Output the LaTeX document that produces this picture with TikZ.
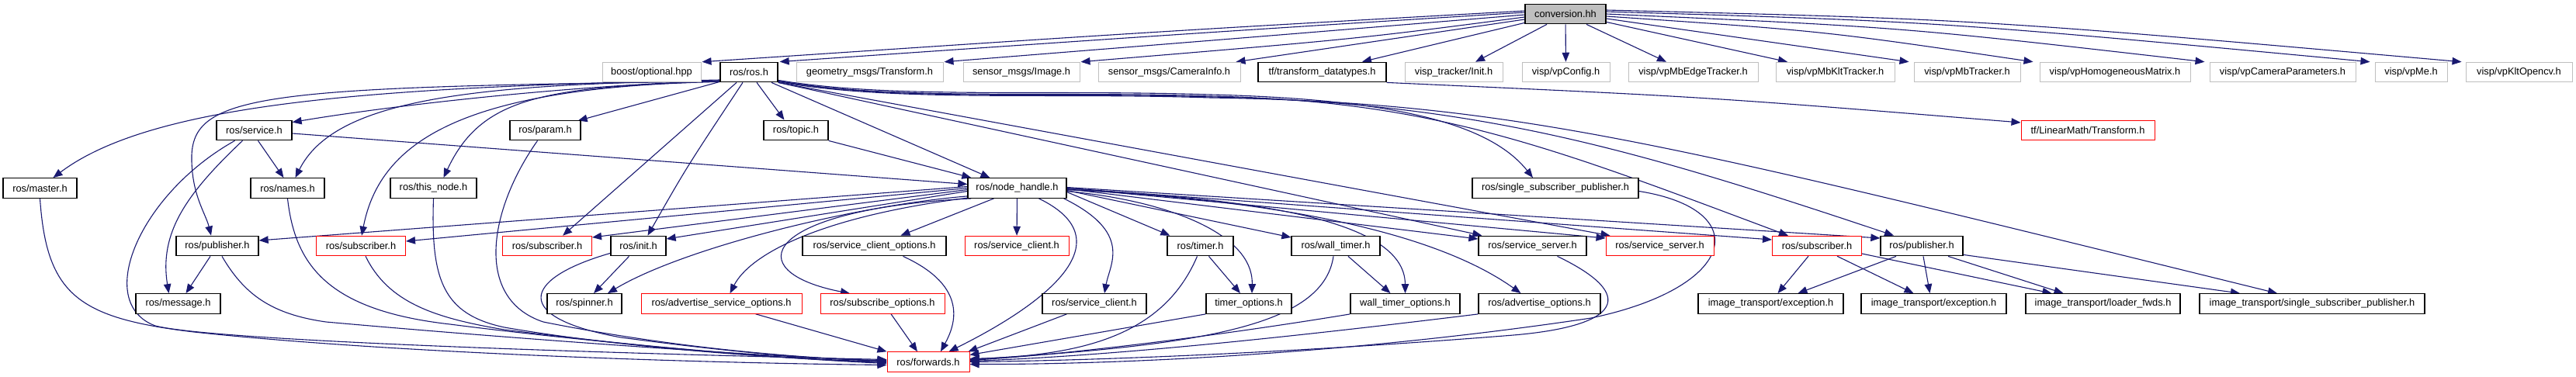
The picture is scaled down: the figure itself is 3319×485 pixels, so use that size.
\documentclass[tikz,border=0pt]{standalone}
\usepackage{fontspec}
\setmainfont{Liberation Sans}
\usetikzlibrary{arrows.meta,calc}
\definecolor{edgeblue}{HTML}{191970}
\definecolor{bordergray}{HTML}{BFBFBF}
\definecolor{convfill}{HTML}{BFBFBF}
\pgfdeclarelayer{bg}
\pgfsetlayers{bg,main}
\tikzset{
  nbox/.style={rectangle, inner sep=0pt, minimum height=25.5pt, fill=white,
    font=\fontsize{12.8}{14}\selectfont, line width=1pt},
  gbox/.style={nbox, draw=bordergray},
  kbox/.style={nbox, draw=black, line width=1.3pt},
  rbox/.style={nbox, draw=red},
  cbox/.style={nbox, draw=black, line width=1.3pt, fill=convfill},
  edge/.style={draw=edgeblue, line width=1.1pt, -{Triangle[length=12pt,width=9.5pt]}}
}
\begin{document}
\begin{tikzpicture}[x=1pt,y=-1pt]
\useasboundingbox (0,0) rectangle (3319,485);
% row 0
\node[cbox, minimum width=104] (conv) at (2017,18) {conversion.hh};
% row 1
\node[gbox, minimum width=127] (boost) at (839.5,93) {boost/optional.hpp};
\node[kbox, minimum width=74] (ros) at (965,93) {ros/ros.h};
\node[gbox, minimum width=189] (geom) at (1120.5,93) {geometry\_msgs/Transform.h};
\node[gbox, minimum width=150] (img) at (1316,93) {sensor\_msgs/Image.h};
\node[gbox, minimum width=183] (caminfo) at (1506.5,93) {sensor\_msgs/CameraInfo.h};
\node[kbox, minimum width=165] (tfdt) at (1703.5,93) {tf/transform\_datatypes.h};
\node[gbox, minimum width=126] (vinit) at (1873,93) {visp\_tracker/Init.h};
\node[gbox, minimum width=113] (vpconfig) at (2017.5,93) {visp/vpConfig.h};
\node[gbox, minimum width=167] (vpmbedge) at (2181.5,93) {visp/vpMbEdgeTracker.h};
\node[gbox, minimum width=153] (vpmbklt) at (2364.5,93) {visp/vpMbKltTracker.h};
\node[gbox, minimum width=137] (vpmb) at (2534.5,93) {visp/vpMbTracker.h};
\node[gbox, minimum width=194] (vphom) at (2725,93) {visp/vpHomogeneousMatrix.h};
\node[gbox, minimum width=188] (vpcam) at (2941,93) {visp/vpCameraParameters.h};
\node[gbox, minimum width=93] (vpme) at (3106.5,93) {visp/vpMe.h};
\node[gbox, minimum width=137] (vpklt) at (3245.5,93) {visp/vpKltOpencv.h};
% row 2
\node[kbox, minimum width=97] (service) at (327.5,168) {ros/service.h};
\node[kbox, minimum width=91] (param) at (702.5,168) {ros/param.h};
\node[kbox, minimum width=83] (topic) at (1025.5,168) {ros/topic.h};
\node[rbox, minimum width=172] (tflm) at (2690,168) {tf/LinearMath/Transform.h};
% row 3
\node[kbox, minimum width=95] (master) at (51.5,242.5) {ros/master.h};
\node[kbox, minimum width=95] (names) at (370.5,242.5) {ros/names.h};
\node[kbox, minimum width=111] (thisnode) at (558.5,242.5) {ros/this\_node.h};
\node[kbox, minimum width=127] (nh) at (1310.5,242.5) {ros/node\_handle.h};
\node[kbox, minimum width=214] (ssp) at (2004,242.5) {ros/single\_subscriber\_publisher.h};
% row 4
\node[kbox, minimum width=106] (pub1) at (280,317) {ros/publisher.h};
\node[rbox, minimum width=115] (sub1) at (465,317) {ros/subscriber.h};
\node[rbox, minimum width=115] (sub2) at (705,317) {ros/subscriber.h};
\node[kbox, minimum width=71] (init) at (822.5,317) {ros/init.h};
\node[kbox, minimum width=185] (sco) at (1126.5,317) {ros/service\_client\_options.h};
\node[rbox, minimum width=134] (sc1) at (1310,317) {ros/service\_client.h};
\node[kbox, minimum width=85] (timer) at (1546.5,317) {ros/timer.h};
\node[kbox, minimum width=114] (wtimer) at (1721,317) {ros/wall\_timer.h};
\node[kbox, minimum width=139] (ss1) at (1974.5,317) {ros/service\_server.h};
\node[rbox, minimum width=139] (ss2) at (2138.5,317) {ros/service\_server.h};
\node[rbox, minimum width=115] (sub3) at (2341,317) {ros/subscriber.h};
\node[kbox, minimum width=106] (pub2) at (2476,317) {ros/publisher.h};
% row 5
\node[kbox, minimum width=109] (msg) at (229.5,391.5) {ros/message.h};
\node[kbox, minimum width=96] (spinner) at (753,391.5) {ros/spinner.h};
\node[rbox, minimum width=207] (aso) at (929.5,391.5) {ros/advertise\_service\_options.h};
\node[rbox, minimum width=160] (so) at (1137,391.5) {ros/subscribe\_options.h};
\node[kbox, minimum width=134] (sc2) at (1410,391.5) {ros/service\_client.h};
\node[kbox, minimum width=110] (topt) at (1609,391.5) {timer\_options.h};
\node[kbox, minimum width=141] (wto) at (1810.5,391.5) {wall\_timer\_options.h};
\node[kbox, minimum width=157] (ao) at (1983.5,391.5) {ros/advertise\_options.h};
\node[kbox, minimum width=187] (ite1) at (2281.5,391.5) {image\_transport/exception.h};
\node[kbox, minimum width=187] (ite2) at (2491.5,391.5) {image\_transport/exception.h};
\node[kbox, minimum width=199] (itlf) at (2709.5,391.5) {image\_transport/loader\_fwds.h};
\node[kbox, minimum width=290] (itssp) at (2979,391.5) {image\_transport/single\_subscriber\_publisher.h};
% row 6
\node[rbox, minimum width=106] (fwd) at (1196,466.5) {ros/forwards.h};

\begin{pgfonlayer}{bg}
% conversion.hh
\draw[edge] ($(conv.west)+(0,-4)$) .. controls (1500,40) .. ($(boost.north east)+(1,0)$);
\draw[edge] ($(conv.west)+(0,-2)$) .. controls (1550,42) .. ($(ros.north east)+(2,0)$);
\draw[edge] ($(conv.west)+(0,1)$) .. controls (1650,45) .. ($(geom.north east)+(1,0)$);
\draw[edge] ($(conv.west)+(0,4)$) .. controls (1750,50) .. ($(img.north east)+(1,0)$);
\draw[edge] ($(conv.west)+(0,7)$) -- ($(caminfo.north east)+(-6,0)$);
\draw[edge] ($(conv.south west)+(0,-2)$) -- ($(tfdt.north)+(51.5,0)$);
\draw[edge] ($(conv.south)+(-24,0)$) -- ($(vinit.north)+(28,0)$);
\draw[edge] (conv) -- (vpconfig);
\draw[edge] ($(conv.south)+(27,0)$) -- ($(vpmbedge.north)+(-34.5,0)$);
\draw[edge] ($(conv.south east)+(0,-3)$) -- ($(vpmbklt.north)+(-61.5,0)$);
\draw[edge] ($(conv.east)+(0,6)$) -- ($(vpmb.north west)+(-6,0)$);
\draw[edge] ($(conv.east)+(0,3)$) .. controls (2350,40) .. ($(vphom.north west)+(-8,0)$);
\draw[edge] ($(conv.east)+(0,0)$) .. controls (2450,35) .. ($(vpcam.north west)+(-6,0)$);
\draw[edge] ($(conv.east)+(0,-3)$) .. controls (2500,28) .. ($(vpme.north west)+(-6,0)$);
\draw[edge] ($(conv.east)+(0,-5)$) .. controls (2550,25) .. ($(vpklt.north west)+(-5,0)$);
\draw[edge] (tfdt.south east) .. controls (2200,125) .. ($(tflm.west)+(0,-10)$);
% ros/ros.h
\draw[edge] ($(ros.west)+(0,10)$) .. controls (500,112) and (200,130) .. ($(master.north)+(17,0)$);
\draw[edge] ($(ros.west)+(0,11)$) .. controls (700,112) and (480,140) .. ($(service.north east)+(0,3)$);
\draw[edge] ($(ros.west)+(0,12)$) .. controls (350,112) and (250,120) .. (247,200) .. controls (246,250) and (265,275) .. ($(pub1.north)+(-8,0)$);
\draw[edge] ($(ros.west)+(0,11)$) .. controls (600,108) and (430,130) .. ($(names.north)+(10,0)$);
\draw[edge] ($(ros.west)+(0,12)$) .. controls (700,112) and (620,125) .. ($(thisnode.north)+(13,0)$);
\draw[edge] ($(ros.south west)+(0,-1)$) -- ($(param.north east)+(-4,1)$);
\draw[edge] ($(ros.south west)+(0,-1)$) .. controls (600,112) and (490,180) .. ($(sub1.north)+(1,0)$);
\draw[edge] ($(ros.south)+(-16,0)$) -- ($(sub2.north)+(20,0)$);
\draw[edge] ($(ros.south)+(-8,0)$) .. controls (885,215) .. ($(init.north)+(12,0)$);
\draw[edge] ($(ros.south)+(10,0)$) -- ($(topic.north)+(-15,0)$);
\draw[edge] ($(ros.south)+(29,0)$) -- ($(nh.north)+(-35,0)$);
\draw[edge] ($(ros.south east)+(0,-3)$) .. controls (1150,128) and (1350,115) .. (1560,122) .. controls (1800,128) and (1920,160) .. ($(ssp.north)+(-29,0)$);
\draw[edge] ($(ros.south east)+(0,-2)$) .. controls (1150,130) and (1350,117) .. (1560,124) .. controls (1850,130) and (2000,190) .. ($(sub3.north)+(-37,0)$);
\draw[edge] ($(ros.south east)+(0,-2)$) .. controls (1150,131) and (1350,118) .. (1560,125) .. controls (1900,132) and (2100,190) .. ($(pub2.north)+(-36,0)$);
\draw[edge] ($(ros.south east)+(0,-1)$) .. controls (1150,132) and (1350,119) .. (1560,126) .. controls (1950,132) and (2150,185) .. ($(itssp.north)+(-45,0)$);
\draw[edge] (ros.south east) -- ($(ss1.north west)+(5,0)$);
\draw[edge] (ros.south east) -- ($(ss2.north west)+(6,0)$);
% ros/service.h
\draw[edge] ($(service.south)+(5,0)$) -- ($(names.north)+(-5,0)$);
\draw[edge] ($(service.south)+(-15,0)$) .. controls (240,250) and (205,300) .. ($(msg.north)+(-12,0)$);
\draw[edge] ($(service.south)+(-25,0)$) .. controls (180,250) and (120,390) .. (200,420) .. controls (280,440) and (800,456) .. ($(fwd.west)+(0,-3)$);
\draw[edge] ($(service.east)+(0,4)$) -- ($(nh.west)+(0,-5)$);
% into forwards from the left
\draw[edge] ($(param.south)+(-10,0)$) .. controls (630,270) and (610,385) .. (700,415) .. controls (850,445) and (1000,460) .. ($(fwd.west)+(0,-1)$);
\draw[edge] (master.south) .. controls (60,380) and (100,410) .. (250,428) .. controls (500,455) and (900,468) .. ($(fwd.west)+(0,4)$);
\draw[edge] (names.south) .. controls (380,340) and (420,400) .. (580,418) .. controls (750,440) and (1000,462) .. ($(fwd.west)+(0,2)$);
\draw[edge] (thisnode.south) .. controls (555,360) and (570,405) .. (650,422) .. controls (800,448) and (1000,462) .. ($(fwd.west)+(0,1)$);
\draw[edge] ($(pub1.south)+(6,0)$) .. controls (315,380) and (350,405) .. (420,415) .. controls (700,440) and (1000,460) .. ($(fwd.west)+(0,-1)$);
\draw[edge] ($(sub1.south)+(6,0)$) .. controls (500,390) and (560,410) .. (650,425) .. controls (850,450) and (1000,462) .. (fwd.west);
\draw[edge] ($(init.south west)+(0,-4)$) .. controls (670,360) and (660,410) .. (800,435) .. controls (950,455) and (1050,463) .. ($(fwd.west)+(0,-2)$);
\draw[edge] ($(pub1.south)+(-9,0)$) -- ($(msg.north)+(10,0)$);
\draw[edge] ($(init.south)+(-12,0)$) -- ($(spinner.north)+(12,0)$);
% ros/node_handle.h
\draw[edge] ($(nh.south west)+(0,-3)$) .. controls (1100,265) and (880,320) .. ($(spinner.north)+(30,0)$);
\draw[edge] ($(nh.south west)+(2,-1)$) .. controls (1050,280) and (965,330) .. ($(aso.north)+(11,0)$);
\draw[edge] ($(nh.south west)+(5,0)$) .. controls (980,270) and (950,350) .. ($(so.north)+(-42,0)$);
\draw[edge] ($(nh.south)+(-30,0)$) -- ($(sco.north)+(34,0)$);
\draw[edge] (nh) -- (sc1);
\draw[edge] ($(nh.south)+(28,0)$) .. controls (1450,310) and (1350,390) .. ($(fwd.north east)+(-27,0)$);
\draw[edge] ($(nh.south east)+(-4,0)$) .. controls (1460,300) and (1430,340) .. ($(sc2.north)+(13,0)$);
\draw[edge] ($(nh.east)+(0,5)$) -- ($(timer.north west)+(4,0)$);
\draw[edge] ($(nh.east)+(0,4)$) .. controls (1500,258) and (1615,300) .. ($(topt.north)+(4,0)$);
\draw[edge] ($(nh.east)+(0,3)$) -- ($(wtimer.west)+(0,-11)$);
\draw[edge] ($(nh.east)+(0,2)$) .. controls (1600,255) and (1810,280) .. (wto.north);
\draw[edge] ($(nh.east)+(0,2)$) .. controls (1650,258) and (1850,300) .. ($(ao.north)+(-24,0)$);
\draw[edge] ($(nh.east)+(0,1)$) -- ($(ss1.west)+(0,-9)$);
\draw[edge] (nh.east) -- ($(ss2.west)+(0,-10)$);
\draw[edge] (nh.east) -- ($(sub3.west)+(0,-8)$);
\draw[edge] ($(nh.east)+(0,-1)$) -- ($(pub2.west)+(0,-10)$);
\draw[edge] ($(nh.west)+(0,-2)$) -- ($(pub1.east)+(0,-7)$);
\draw[edge] (nh.west) -- ($(sub1.east)+(0,-6)$);
\draw[edge] ($(nh.west)+(0,2)$) -- ($(sub2.east)+(0,-11)$);
\draw[edge] ($(nh.west)+(0,4)$) -- ($(init.east)+(0,-9)$);
\draw[edge] (topic.south east) -- ($(nh.north west)+(5,0)$);
% into forwards from the right
\draw[edge] ($(ssp.east)+(0,4)$) .. controls (2260,270) and (2240,370) .. (2050,410) .. controls (1750,455) and (1450,470) .. ($(fwd.east)+(0,3)$);
\draw[edge] ($(ss1.south)+(32,0)$) .. controls (2110,380) and (2090,420) .. (1950,432) .. controls (1700,452) and (1450,464) .. (fwd.east);
\draw[edge] (ao.south west) .. controls (1700,430) and (1450,458) .. ($(fwd.east)+(0,-1)$);
\draw[edge] (wto.south west) .. controls (1600,428) and (1400,455) .. ($(fwd.east)+(0,-2)$);
\draw[edge] ($(wtimer.south)+(-3,0)$) .. controls (1705,420) and (1550,445) .. ($(fwd.east)+(0,-3)$);
\draw[edge] (topt.south west) -- ($(fwd.east)+(0,-9)$);
\draw[edge] ($(timer.south)+(-4,0)$) .. controls (1500,430) and (1400,458) .. ($(fwd.east)+(0,-4)$);
\draw[edge] ($(sc2.south west)+(32,0)$) -- ($(fwd.north east)+(-2,0)$);
\draw[edge] ($(sco.south)+(37,0)$) .. controls (1250,370) and (1230,420) .. ($(fwd.north)+(16,0)$);
\draw[edge] ($(aso.south)+(44,0)$) -- (fwd.north west);
\draw[edge] ($(so.south)+(11,0)$) -- ($(fwd.north)+(-14,0)$);
\draw[edge] ($(timer.south)+(11,0)$) -- ($(topt.north)+(-11,0)$);
\draw[edge] ($(wtimer.south)+(16,0)$) -- ($(wto.north)+(-19,0)$);
% image_transport
\draw[edge] ($(sub3.south)+(-11,0)$) -- ($(ite1.north)+(9,0)$);
\draw[edge] ($(sub3.south)+(26,0)$) -- ($(ite2.north)+(-26,0)$);
\draw[edge] ($(sub3.east)+(0,10)$) -- ($(itlf.north)+(-66,0)$);
\draw[edge] ($(pub2.south)+(-33,0)$) -- ($(ite1.north)+(35,0)$);
\draw[edge] ($(pub2.south)+(2,0)$) -- ($(ite2.north)+(-5,0)$);
\draw[edge] ($(pub2.south)+(34,0)$) -- ($(itlf.north)+(-51,0)$);
\draw[edge] ($(pub2.south east)+(0,-2)$) -- ($(itssp.north)+(-93,0)$);
\end{pgfonlayer}
\end{tikzpicture}
\end{document}
